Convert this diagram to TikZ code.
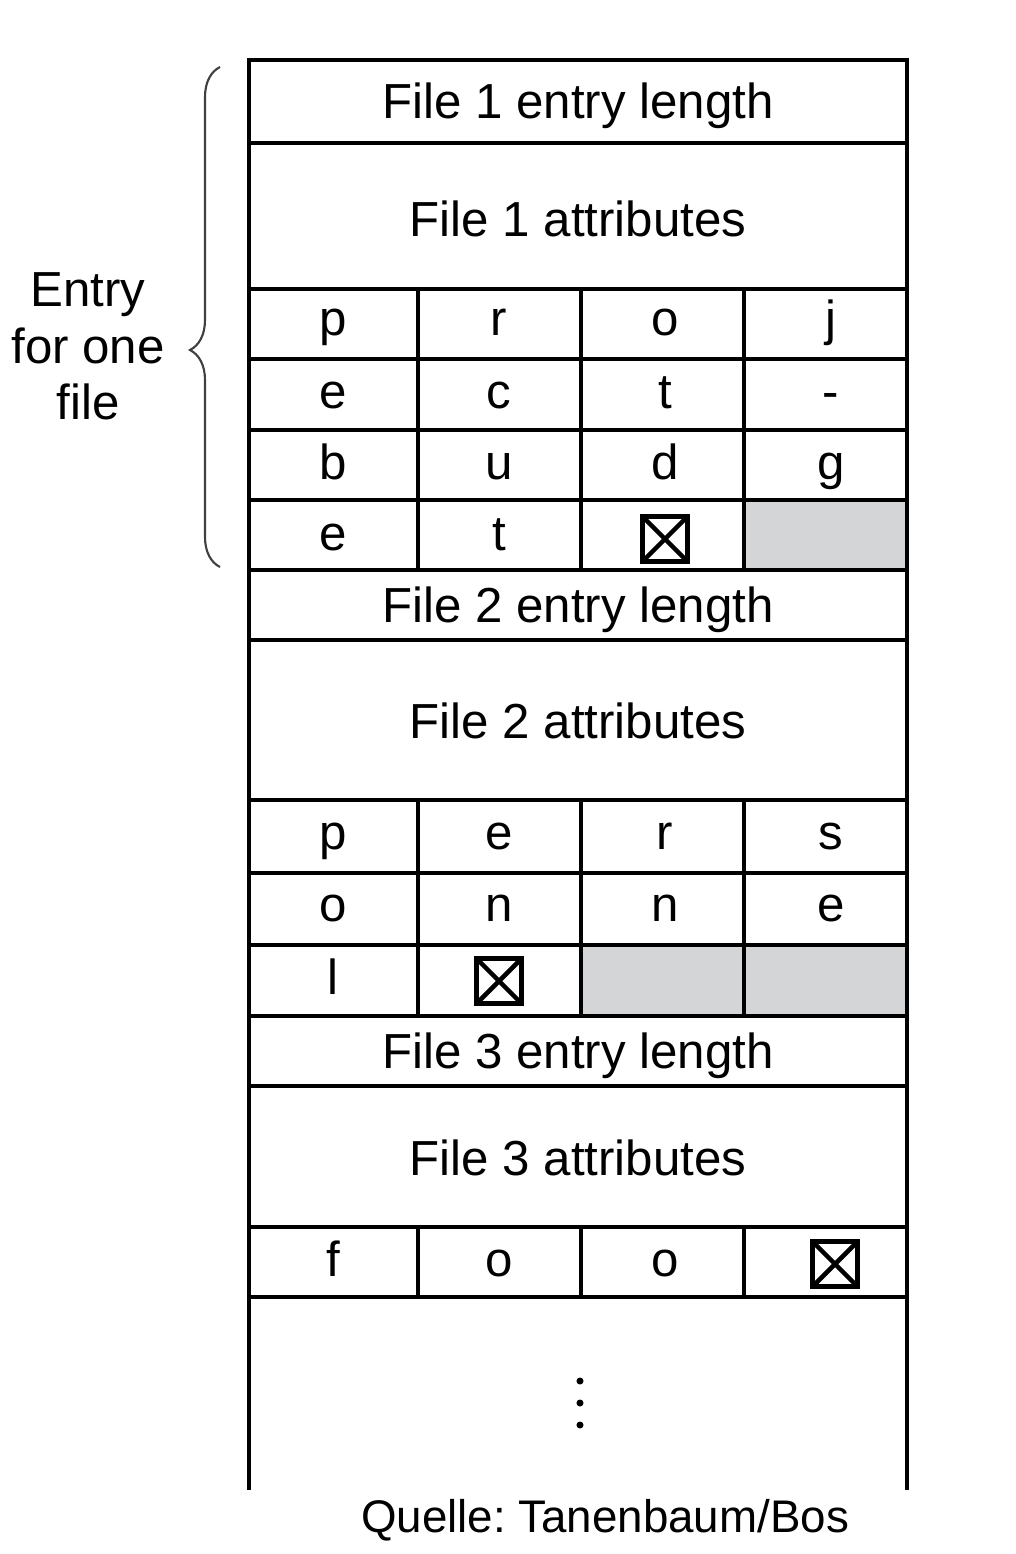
\documentclass[tikz,border=0pt]{standalone}
\usepackage{fontspec}
\setmainfont{Liberation Sans}
\usetikzlibrary{decorations.pathreplacing}
\definecolor{cellgray}{RGB}{211,213,214}
\frenchspacing

\begin{document}
\begin{tikzpicture}[x=0.01cm,y=-0.01cm,
        lbl/.style={anchor=base,inner sep=0pt,font=\fontsize{14}{16}\selectfont},
        grid/.style={line width=1.2pt,line cap=rect},
        xbox/.style={draw,line width=1.6pt,minimum size=0.45cm,inner sep=0pt,
            path picture={\draw[line width=1.3pt]
                (path picture bounding box.north west) -- (path picture bounding box.south east)
                (path picture bounding box.north east) -- (path picture bounding box.south west);}}
    ]
    \useasboundingbox (0,0) rectangle (1016,1554);
    \fill[cellgray] (744,500) rectangle (907,570) (581,945) rectangle (907,1016);
    \draw[grid] (249,60) -- (249,1488) (907,60) -- (907,1488);
    \foreach \y in {60,143,289,359,430,500,570,640,800,873,945,1016,1086,1227,1297}
        \draw[grid] (249,\y) -- (907,\y);
    \foreach \x in {418,581,744}
        \draw[grid] (\x,289) -- (\x,570) (\x,800) -- (\x,1016) (\x,1227) -- (\x,1297);
    \foreach \n/\yl/\ya in {1/118/236,2/622/738,3/1068/1175} {
        \node[lbl] (len\n) at (578,\yl) {File \n{} entry length};
        \node[lbl] (att\n) at (578,\ya) {File \n{} attributes};
    }
    \foreach \r/\y/\cs in {a/335/{p,r,o,j},b/408/{e,c,t,-},c/479/{b,u,d,g},d/550/{e,t},
            e/849/{p,e,r,s},f/921/{o,n,n,e},g/994/{l},h/1276/{f,o,o}}
        \foreach \c [count=\i] in \cs
            \node[lbl] (\r\i) at ({166*\i+167},\y) {\c};
    \node[xbox] (d3) at (665,539) {};
    \node[xbox] (g2) at (499,981) {};
    \node[xbox] (h4) at (835,1264) {};
    \foreach \y in {1381,1403,1425}
        \fill (580,\y) circle[radius=1pt];
    \draw[decorate,decoration={brace,amplitude=0.3cm,aspect=0.434},line width=0.6pt,black!75] (220,567) -- (220,67);
    \foreach \t/\y [count=\i] in {Entry/306,for one/363,file/419}
        \node[lbl] (entry\i) at (88,\y) {\t};
    \node[lbl,font=\fontsize{13}{15}\selectfont] (src) at (605,1532) {Quelle: Tanenbaum/Bos};
\end{tikzpicture}
\end{document}
